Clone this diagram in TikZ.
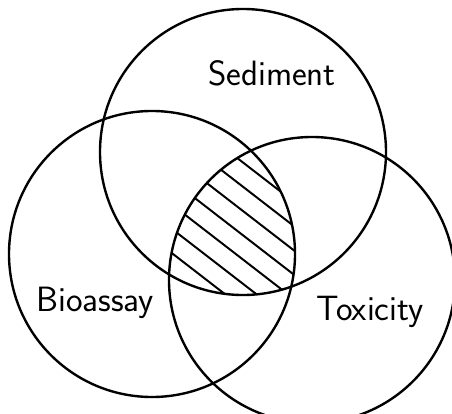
\documentclass[tikz,border=0pt]{standalone}
\usepackage{tikz}
\usetikzlibrary{positioning}

\begin{document}
\begin{tikzpicture}[
  every node/.style={font=\sffamily\fontsize{25}{28}\selectfont},
  ring/.style={line width=1.7pt, draw=black},
  hatch/.style={line width=1.4pt}
]
  \useasboundingbox (0,0) rectangle (11.3,10.325);
  \def\r{3.575}

  % circle centres
  \coordinate (sedc) at (6.075, 6.525);
  \coordinate (bioc) at (3.8, 3.975);
  \coordinate (toxc) at (7.8, 3.325);

  % hatched triple overlap
  \begin{scope}
    \clip (sedc) circle (\r);
    \clip (bioc) circle (\r);
    \clip (toxc) circle (\r);
    \coordinate (hcen) at (5.5, 6.075);
    \begin{scope}[shift={(hcen)}, rotate=-37.7]
      \foreach \i in {0,...,6} {
        \draw[hatch] (-5, {0.5-0.48*\i}) -- (5, {0.5-0.48*\i});
      }
    \end{scope}
  \end{scope}

  % the three sets
  \draw[ring] (sedc) circle (\r);
  \draw[ring] (bioc) circle (\r);
  \draw[ring] (toxc) circle (\r);

  % labels
  \node (sedlbl) at (6.8, 8.5) {Sediment};
  \node (biolbl) at (2.375, 2.75) {Bioassay};
  \node (toxlbl) at (9.25, 2.525) {Toxicity};
\end{tikzpicture}
\end{document}
